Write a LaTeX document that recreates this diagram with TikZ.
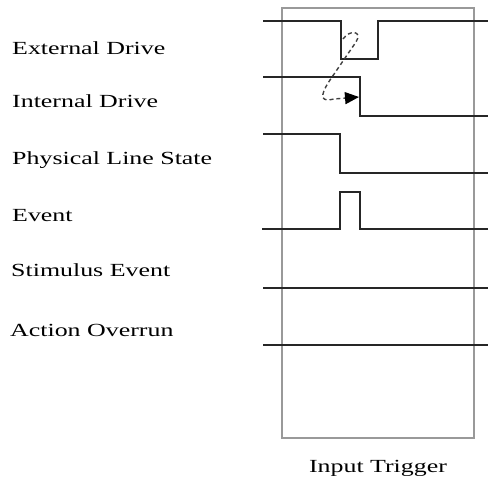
\documentclass[tikz,border=0pt]{standalone}
\usepackage{fontspec}
\setmainfont[FakeStretch=1.40]{Liberation Serif}
\usetikzlibrary{arrows.meta}

\begin{document}
\begin{tikzpicture}[
    x=1pt,y=-1pt,
    every node/.style={inner sep=0pt, font=\fontsize{18.5}{20}\selectfont},
    sigtag/.style={anchor=base west},
    signal/.style={line width=1.4pt, black!85, line join=miter},
    frame/.style={line width=1.2pt, black!40},
    cause/.style={line width=1.4pt, black!75, dash pattern=on 4pt off 3pt}
]
    \useasboundingbox (0,0) rectangle (488,479);

    % trigger window
    \draw[frame] (282,8) rectangle (474,438);
    \node[anchor=base] (trig) at (378,472) {Input Trigger};

    % labels
    \node[sigtag] (ext) at (12,54) {External Drive};
    \node[sigtag] (int) at (12,107) {Internal Drive};
    \node[sigtag] (phy) at (12,164) {Physical Line State};
    \node[sigtag] (evt) at (12,221) {Event};
    \node[sigtag] (stim) at (11,276) {Stimulus Event};
    \node[sigtag] (over) at (10,336) {Action Overrun};

    % waveforms
    \draw[signal] (263,21) -- (341,21) -- (341,59) -- (378,59) -- (378,21) -- (488,21);
    \draw[signal] (263,77) -- (360,77) -- (360,116) -- (488,116);
    \draw[signal] (263,134) -- (340,134) -- (340,173) -- (488,173);
    \draw[signal] (262,229) -- (340,229) -- (340,192) -- (360,192) -- (360,229) -- (488,229);
    \draw[signal] (263,288) -- (488,288);
    \draw[signal] (263,345) -- (488,345);

    % external drive causes internal drive
    \coordinate (from) at (343,39);
    \coordinate (to) at (359,97);
    \draw[cause, -{Triangle[length=14pt,width=12pt,color=black]}] (from)
        .. controls (350,29) and (363,31) .. (356,42) -- (330,80)
        .. controls (318,98) and (322,102) .. (334,99) -- (to);
\end{tikzpicture}
\end{document}
